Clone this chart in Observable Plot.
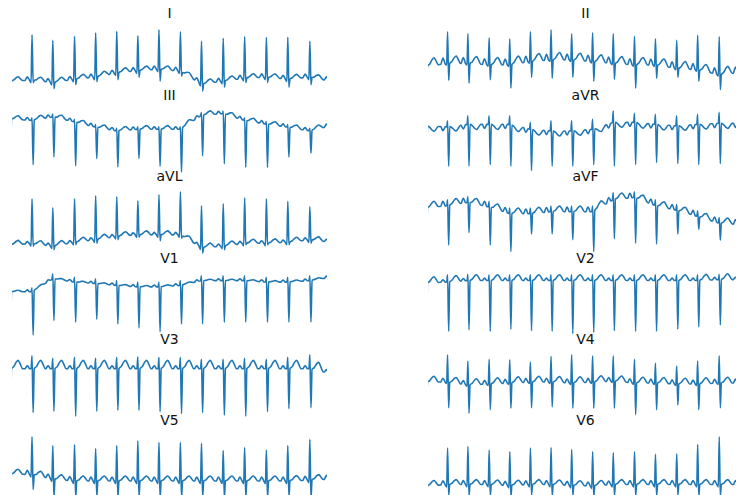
<!DOCTYPE html>
<html>
<head>
<meta charset="utf-8">
<script src="https://cdn.jsdelivr.net/npm/d3@7"></script>
<script src="https://cdn.jsdelivr.net/npm/@observablehq/plot@0.6"></script>
<style>
  html, body { margin: 0; padding: 0; background: #fff; }
  #chart { position: relative; width: 736px; height: 495px; overflow: hidden; background: #fff; }
  .panel { position: absolute; }
  .title { position: absolute; font-family: "DejaVu Sans", sans-serif; font-size: 14px; line-height: 14px; color: #111; transform: translateX(-50%); white-space: nowrap; }
</style>
</head>
<body>
<div id="chart"></div>
<script>
// Lead names in grid order (row by row, left then right)
const leads = ["I", "II", "III", "aVR", "aVL", "aVF", "V1", "V2", "V3", "V4", "V5", "V6"];

// R-peak times (s); first and last are the partial beats at the edges
const beatTimes = [-0.1, 0.62, 1.28, 1.97, 2.64, 3.31, 3.98, 4.65, 5.33, 6.00, 6.69, 7.37, 8.06, 8.74, 9.44, 10.12];

// Per-lead wave amplitudes (mV, relative to the isoelectric level)
const pWave = [0.07, 0.12, 0.05, -0.08, 0.05, 0.10, 0.04, 0.05, 0.06, 0.08, 0.08, 0.08];
const tWave = [0.08, 0.15, 0.07, -0.10, 0.08, 0.12, 0.03, 0.12, 0.17, 0.12, 0.10, 0.10];
const qWave = [-0.05, -0.03, 0, 0, -0.05, 0, 0, 0, 0, -0.03, -0.05, -0.05];

// Per-beat isoelectric level, R peak and S trough (mV)
const I_base = [0.0, 0.02, -0.03, 0.04, 0.08, 0.17, 0.21, 0.24, 0.2, -0.06, 0.0, 0.06, 0.08, 0.04, 0.08, 0.0];
const I_r = [0.93, 0.93, 0.82, 0.9, 0.97, 1.0, 0.91, 1.03, 0.99, 0.8, 0.86, 0.89, 0.88, 0.88, 0.8, 0.8];
const I_s = [-0.03, -0.03, -0.15, -0.07, -0.01, 0.03, 0.08, 0.0, 0.1, -0.2, -0.12, -0.03, -0.03, -0.12, -0.07, -0.07];

const II_base = [-0.03, 0.03, 0.03, 0, 0, 0.07, 0.1, 0.1, 0.07, 0.03, 0, 0, -0.07, -0.1, -0.2, -0.15];
const II_r = [0.67, 0.67, 0.63, 0.55, 0.53, 0.67, 0.71, 0.63, 0.65, 0.63, 0.58, 0.53, 0.5, 0.6, 0.57, 0.57];
const II_s = [-0.31, -0.31, -0.37, -0.3, -0.47, -0.25, -0.27, -0.25, -0.33, -0.29, -0.47, -0.27, -0.25, -0.33, -0.5, -0.5];

const III_base = [0.03, 0, 0.07, -0.03, -0.13, -0.2, -0.17, -0.17, -0.17, 0.1, 0.13, 0, -0.07, -0.13, -0.2, -0.1];
const III_r = [0.08, 0.05, 0.12, 0.02, -0.08, -0.15, -0.12, -0.12, -0.12, 0.15, 0.18, 0.05, -0.02, -0.08, -0.15, -0.05];
const III_s = [-0.85, -0.85, -0.7, -0.87, -0.73, -0.89, -0.73, -0.88, -0.99, -0.68, -0.83, -0.9, -0.9, -0.7, -0.63, -0.63];

const aVR_base = [0, -0.02, 0.03, 0.03, 0.03, -0.07, -0.1, -0.1, -0.07, 0.07, 0.07, 0.03, 0, 0.03, 0.05, 0.05];
const aVR_r = [0.1, 0.1, 0.2, 0.2, 0.2, 0.07, 0.1, 0.1, 0.13, 0.3, 0.25, 0.23, 0.2, 0.23, 0.27, 0.27];
const aVR_s = [-0.8, -0.8, -0.8, -0.77, -0.8, -0.89, -0.8, -0.8, -0.77, -0.8, -0.77, -0.73, -0.75, -0.77, -0.75, -0.75];

const aVL_base = [0, 0.02, -0.03, 0.05, 0.1, 0.17, 0.2, 0.2, 0.2, -0.06, -0.03, 0.03, 0.03, 0.05, 0.1, 0.05];
const aVL_r = [0.93, 0.93, 0.75, 0.93, 0.99, 0.97, 0.89, 1.01, 1.07, 0.79, 0.83, 0.95, 0.93, 0.88, 0.77, 0.77];
const aVL_s = [-0.03, -0.03, -0.1, 0, 0.03, 0.1, 0.15, 0.08, 0.13, -0.17, -0.1, 0, 0, 0, 0.03, 0.03];

const aVF_base = [0.05, 0.1, 0.17, 0.07, -0.07, -0.07, -0.03, -0.03, -0.03, 0.23, 0.27, 0.1, 0, -0.13, -0.27, -0.3];
const aVF_r = [0.17, 0.22, 0.29, 0.19, 0.05, 0.05, 0.09, 0.09, 0.09, 0.37, 0.39, 0.22, 0.12, -0.01, -0.15, -0.15];
const aVF_s = [-0.73, -0.73, -0.47, -0.73, -0.87, -0.5, -0.5, -0.62, -0.87, -0.6, -0.69, -0.71, -0.5, -0.4, -0.63, -0.63];

const V1_base = [-0.2, -0.2, 0.07, 0, -0.03, -0.07, -0.1, -0.1, -0.07, 0.03, 0.03, 0.03, 0, 0, 0.03, 0.1];
const V1_r = [-0.12, -0.12, 0.17, 0.1, 0.07, 0.03, 0, 0, 0.03, 0.13, 0.13, 0.13, 0.1, 0.1, 0.13, 0.2];
const V1_s = [-1.1, -1.1, -0.8, -0.83, -0.77, -0.87, -0.95, -1.03, -0.87, -0.87, -0.83, -0.83, -0.83, -0.83, -0.83, -0.83];

const V2_base = [-0.05, -0.03, 0, 0, 0, 0, 0, 0, 0, 0, 0, 0, 0, 0, 0.02, 0.02];
const V2_r = [0.12, 0.12, 0.13, 0.12, 0.12, 0.12, 0.12, 0.12, 0.12, 0.12, 0.12, 0.12, 0.12, 0.12, 0.13, 0.13];
const V2_s = [-1.05, -1.05, -1.02, -1.05, -1.01, -1.04, -1.05, -1.1, -1.07, -1.04, -1.05, -1.05, -1.01, -0.96, -0.92, -0.92];

const V3_base = [0, 0, 0, 0, 0, 0, 0, 0, 0, 0, 0, 0, 0, 0, 0, -0.1];
const V3_r = [0.26, 0.26, 0.21, 0.23, 0.21, 0.23, 0.24, 0.23, 0.23, 0.19, 0.19, 0.21, 0.19, 0.23, 0.28, 0.28];
const V3_s = [-0.89, -0.89, -0.86, -0.96, -0.86, -0.84, -0.84, -0.87, -0.91, -0.89, -0.94, -0.96, -0.87, -0.81, -0.79, -0.79];

const V4_base = [0, 0, -0.06, -0.04, -0.02, 0, 0, -0.02, 0, 0.02, -0.02, -0.02, -0.04, -0.04, -0.02, -0.02];
const V4_r = [0.56, 0.56, 0.43, 0.47, 0.46, 0.41, 0.53, 0.56, 0.54, 0.54, 0.47, 0.39, 0.33, 0.43, 0.54, 0.54];
const V4_s = [-0.53, -0.53, -0.64, -0.57, -0.54, -0.53, -0.51, -0.54, -0.54, -0.54, -0.67, -0.57, -0.47, -0.57, -0.53, -0.53];

const V5_base = [0.06, 0.05, -0.04, -0.08, -0.08, -0.08, -0.08, -0.08, -0.08, -0.08, -0.08, -0.08, -0.08, -0.08, -0.06, -0.04];
const V5_r = [0.8, 0.8, 0.63, 0.65, 0.57, 0.63, 0.72, 0.69, 0.69, 0.67, 0.53, 0.59, 0.54, 0.63, 0.75, 0.75];
const V5_s = [-0.25, -0.25, -0.4, -0.42, -0.4, -0.41, -0.4, -0.42, -0.41, -0.4, -0.42, -0.4, -0.41, -0.4, -0.42, -0.42];

const V6_base = [-0.03, 0, 0, 0, -0.02, 0, 0, -0.02, -0.03, 0, 0, 0, 0, 0, 0, 0];
const V6_r = [0.75, 0.75, 0.78, 0.71, 0.67, 0.75, 0.76, 0.72, 0.67, 0.65, 0.67, 0.62, 0.63, 0.82, 0.98, 0.98];
const V6_s = [-0.22, -0.22, -0.24, -0.23, -0.25, -0.22, -0.24, -0.23, -0.25, -0.24, -0.23, -0.24, -0.22, -0.25, -0.24, -0.24];

const leadData = {
  I: [I_base, I_r, I_s], II: [II_base, II_r, II_s], III: [III_base, III_r, III_s],
  aVR: [aVR_base, aVR_r, aVR_s], aVL: [aVL_base, aVL_r, aVL_s], aVF: [aVF_base, aVF_r, aVF_s],
  V1: [V1_base, V1_r, V1_s], V2: [V2_base, V2_r, V2_s], V3: [V3_base, V3_r, V3_s],
  V4: [V4_base, V4_r, V4_s], V5: [V5_base, V5_r, V5_s], V6: [V6_base, V6_r, V6_s]
};

function leadPoints(idx) {
  const [base, r, s] = leadData[leads[idx]];
  const p = pWave[idx], t = tWave[idx], q = qWave[idx];
  const n = beatTimes.length;
  const pts = [];
  beatTimes.forEach((bt, i) => {
    // isoelectric level drifting toward the neighbouring beats' levels
    const lvl = dt => {
      if (dt < 0 && i > 0) return base[i] + (base[i - 1] - base[i]) * (-dt) / (bt - beatTimes[i - 1]);
      if (dt > 0 && i < n - 1) return base[i] + (base[i + 1] - base[i]) * dt / (beatTimes[i + 1] - bt);
      return base[i];
    };
    const shape = [
      [-0.22, 0], [-0.19, 0.5 * p], [-0.15, p], [-0.11, 0.5 * p], [-0.08, 0],
      [-0.03, q], [0, null], [0.035, null], [0.07, 0],
      [0.14, 0.25 * t], [0.22, 0.8 * t], [0.28, t], [0.34, 0.6 * t], [0.42, 0]
    ];
    for (const [dt, off] of shape) {
      let v;
      if (dt === 0) v = r[i];
      else if (dt === 0.035) v = s[i];
      else v = lvl(dt) + off;
      pts.push({t: bt + dt, v});
    }
  });
  return pts;
}

const chart = document.getElementById("chart");
const colLeft = [12, 428];
const titleX = [169.5, 585.5];
const rowPitch = 81.4;
const axesTop0 = 25.6;
const plotW = 315, plotH = 68, inset = 3.4;

leads.forEach((name, idx) => {
  const row = Math.floor(idx / 2), col = idx % 2;
  const pts = leadPoints(idx);
  const visible = pts.filter(d => d.t >= 0 && d.t <= 10);
  const yDom = d3.extent(visible, d => d.v);

  const svg = Plot.plot({
    width: plotW,
    height: plotH,
    margin: 0,
    insetTop: inset,
    insetBottom: inset,
    x: {domain: [0, 10], axis: null},
    y: {domain: yDom, axis: null},
    style: {background: "transparent", overflow: "visible"},
    marks: [
      Plot.line(pts, {x: "t", y: "v", stroke: "#1f77b4", strokeWidth: 1.6, curve: "monotone-x", clip: true})
    ]
  });
  const wrap = document.createElement("div");
  wrap.className = "panel";
  wrap.style.left = colLeft[col] + "px";
  wrap.style.top = (axesTop0 + row * rowPitch) + "px";
  wrap.appendChild(svg);
  chart.appendChild(wrap);

  const title = document.createElement("div");
  title.className = "title";
  title.textContent = name;
  title.style.left = titleX[col] + "px";
  title.style.top = (18.3 + row * rowPitch - 11.85) + "px";
  chart.appendChild(title);
});
</script>
</body>
</html>
